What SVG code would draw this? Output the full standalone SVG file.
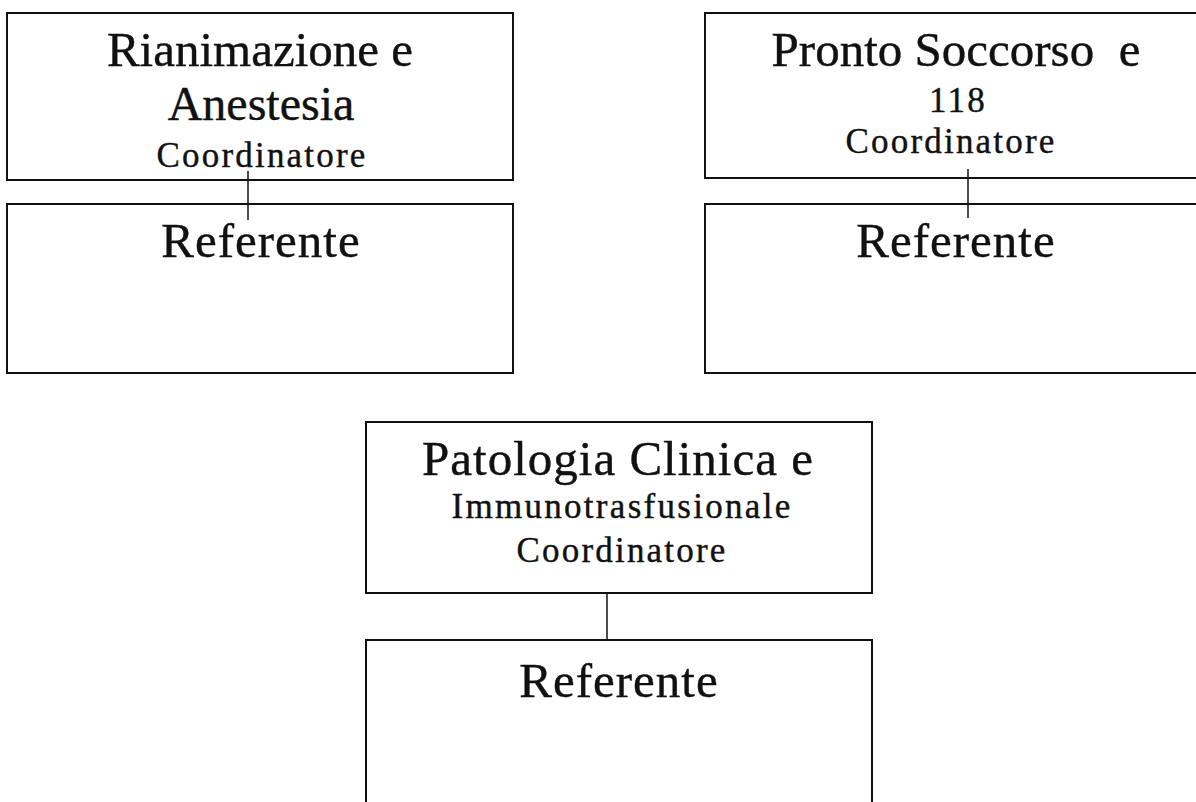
<svg xmlns="http://www.w3.org/2000/svg" width="1196" height="802" viewBox="0 0 1196 802">
<style>
.box{fill:#fff;stroke:#111;stroke-width:2}
.conn{stroke:#111;stroke-width:1.5;fill:none}
text{font-family:"Liberation Serif","Times New Roman",serif;fill:#111;stroke:#111;stroke-width:0.4;text-anchor:middle}
.t1{font-size:49px}
.t2{font-size:35px;letter-spacing:2.2px}
.t3{font-size:49px;letter-spacing:1px}
</style>
<rect width="1196" height="802" fill="#fff"/>
<g id="node-rianimazione">
<rect class="box" x="7" y="13" width="506" height="167"/>
<text class="t1" x="260" y="66">Rianimazione e</text>
<text class="t1" x="261" y="120" style="font-size:48px">Anestesia</text>
<text class="t2" x="262" y="167">Coordinatore</text>
</g>
<g id="node-referente-1">
<rect class="box" x="7" y="204" width="506" height="169"/>
<text class="t3" x="261" y="257">Referente</text>
</g>
<g id="node-pronto-soccorso">
<rect class="box" x="705" y="13" width="506" height="165"/>
<text class="t1" x="956" y="66" xml:space="preserve" style="white-space:pre">Pronto Soccorso  e</text>
<text class="t2" x="958" y="112">118</text>
<text class="t2" x="951" y="153">Coordinatore</text>
</g>
<g id="node-referente-2">
<rect class="box" x="705" y="204" width="506" height="169"/>
<text class="t3" x="956" y="257">Referente</text>
</g>
<g id="node-patologia">
<rect class="box" x="366" y="422" width="506" height="171"/>
<text class="t1" x="618" y="475" style="letter-spacing:1px">Patologia Clinica e</text>
<text class="t2" x="622" y="518" style="letter-spacing:2.3px">Immunotrasfusionale</text>
<text class="t2" x="622" y="562">Coordinatore</text>
</g>
<g id="node-referente-3">
<rect class="box" x="366" y="640" width="506" height="176"/>
<text class="t3" x="619" y="697">Referente</text>
</g>
<g id="connectors">
<line class="conn" x1="248" y1="171" x2="248" y2="220"/>
<line class="conn" x1="968" y1="169" x2="968" y2="218"/>
<line class="conn" x1="607" y1="593" x2="607" y2="640"/>
</g>
</svg>
